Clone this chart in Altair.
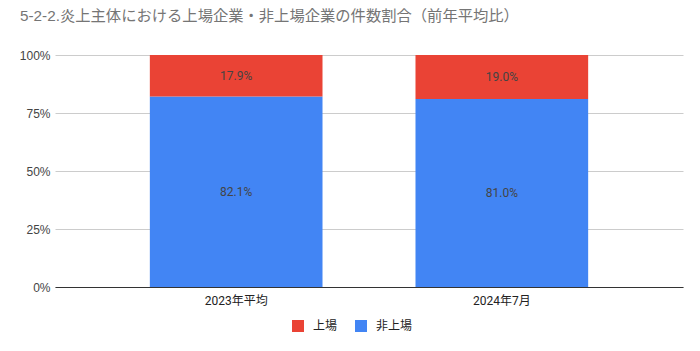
import altair as alt
import pandas as pd

categories = ["2023年平均", "2023年平均", "2024年7月", "2024年7月"]
series = ["非上場", "上場", "非上場", "上場"]
values = [0.821, 0.179, 0.810, 0.190]
order = [0, 1, 0, 1]

df = pd.DataFrame({"cat": categories, "series": series, "value": values, "ord": order})

FONT = "Roboto, 'Noto Sans CJK JP', sans-serif"
AFONT = "'Liberation Sans', Arial, sans-serif"

base = alt.Chart(df).transform_stack(
    stack="value", groupby=["cat"], as_=["y0", "y1"],
    sort=[alt.SortField("ord", order="ascending")]
).transform_calculate(
    mid="(datum.y0 + datum.y1) / 2"
)

xenc = alt.X("cat:N", title=None, sort=["2023年平均", "2024年7月"],
             scale=alt.Scale(paddingInner=0.35, paddingOuter=0.357),
             axis=alt.Axis(labelAngle=0, labelFontSize=12, labelColor="#222222",
                           labelFont=FONT, ticks=False, domainColor="#333333",
                           labelPadding=8))

bars = base.mark_bar().encode(
    x=xenc,
    y=alt.Y("y0:Q", title=None, scale=alt.Scale(domain=[0, 1]),
            axis=alt.Axis(format=".0%", values=[0, 0.25, 0.5, 0.75, 1],
                          labelFontSize=12, labelColor="#444444", labelFont=AFONT,
                          ticks=False, domain=False, gridColor="#cccccc",
                          labelPadding=5)),
    y2="y1:Q",
    color=alt.Color("series:N",
                    scale=alt.Scale(domain=["上場", "非上場"], range=["#ea4335", "#4285f4"]),
                    legend=alt.Legend(title=None, orient="none", direction="horizontal",
                                      legendX=237, legendY=265, symbolType="square",
                                      symbolSize=144, symbolStrokeWidth=0,
                                      labelFontSize=12, labelFont=FONT, labelColor="#222222",
                                      labelOffset=9, columnPadding=17)),
)

labels = base.mark_text(fontSize=12, color="#444444", font=FONT).encode(
    x=alt.X("cat:N", sort=["2023年平均", "2024年7月"]),
    y=alt.Y("mid:Q"),
    text=alt.Text("value:Q", format=".1%"),
)

chart = alt.layer(bars, labels).properties(
    width=628, height=232,
    title=alt.TitleParams("5-2-2.炎上主体における上場企業・非上場企業の件数割合（前年平均比）",
                          anchor="start", frame="group", dx=-35, offset=25,
                          fontSize=15.3, font=AFONT + ", 'Noto Sans CJK JP'",
                          fontWeight="normal", color="#757575"),
    autosize=alt.AutoSizeParams(type="none"),
    padding={"left": 55, "top": 55, "right": 17, "bottom": 64},
).configure_view(stroke=None)

chart.save("out.html", embed_options={"renderer": "svg", "actions": False})
